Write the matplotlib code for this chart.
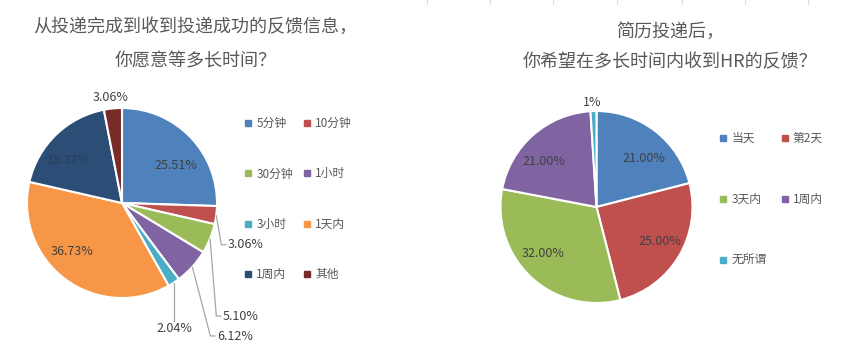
import matplotlib
matplotlib.use("Agg")
import numpy as np
import matplotlib.pyplot as plt
from matplotlib.lines import Line2D

plt.rcParams['font.family'] = ['Noto Sans CJK SC', 'DejaVu Sans']

W, H = 842, 361

# ---- data ----
left_title = ["从投递完成到收到投递成功的反馈信息，", "你愿意等多长时间？"]
left_labels = ["5分钟", "10分钟", "30分钟", "1小时", "3小时", "1天内", "1周内", "其他"]
left_values = [25.51, 3.06, 5.10, 6.12, 2.04, 36.73, 18.37, 3.06]
left_pct = ["25.51%", "3.06%", "5.10%", "6.12%", "2.04%", "36.73%", "18.37%", "3.06%"]

right_title = ["简历投递后，", "你希望在多长时间内收到HR的反馈？"]
right_labels = ["当天", "第2天", "3天内", "1周内", "无所谓"]
right_values = [21.00, 25.00, 32.00, 21.00, 1.00]
right_pct = ["21.00%", "25.00%", "32.00%", "21.00%", "1%"]

left_colors = ["#4F81BD", "#C0504D", "#9BBB59", "#8064A2", "#4BACC6", "#F79646", "#2C4D75", "#772C2A"]
right_colors = ["#4F81BD", "#C0504D", "#9BBB59", "#8064A2", "#4BACC6"]

TXT = "#404040"
GRAY = "#595959"
LEAD = "#A6A6A6"

fig = plt.figure(figsize=(W / 100, H / 100), dpi=100)
fig.patch.set_facecolor("white")


def pie_axes(cx, cy, r, half=150):
    ax = fig.add_axes([(cx - half) / W, 1 - (cy + half) / H, 2 * half / W, 2 * half / H])
    ax.axis("off")
    return ax


def draw_pie(ax, values, colors, r, half=150):
    wedges, _ = ax.pie(values, colors=colors, startangle=90, counterclock=False,
                       radius=1, wedgeprops=dict(edgecolor="white", linewidth=1.5))
    ax.set_xlim(-half / r, half / r)
    ax.set_ylim(-half / r, half / r)
    return wedges


def edge_point(w):
    a = np.deg2rad((w.theta1 + w.theta2) / 2)
    return np.cos(a), np.sin(a)


# ---- left pie ----
axL = pie_axes(122, 203, 95)
wl = draw_pie(axL, left_values, left_colors, 95)

# labels placed inside / above the pie
inner_left = {0: (0.57, 0.39), 5: (-0.53, -0.51), 6: (-0.57, 0.45), 7: (-0.12, 1.11)}
for i, (x, y) in inner_left.items():
    c = "#2A3F5C" if i == 6 else TXT
    axL.text(x, y, left_pct[i], ha="center", va="center", fontsize=9, color=c)

# labels with leader lines (x, y of text, ha)
outer_left = {1: (1.116, -0.44, "left"), 2: (1.063, -1.19, "left"), 3: (1.0, -1.40, "left")}
for i, (x, y, ha) in outer_left.items():
    ex, ey = edge_point(wl[i])
    axL.plot([ex, x - 0.07, x - 0.015], [ey, y, y], color=LEAD, lw=0.9, solid_capstyle="butt")
    axL.text(x, y, left_pct[i], ha=ha, va="center", fontsize=9, color=TXT)
ex, ey = edge_point(wl[4])
axL.plot([ex, ex], [ey, -1.24], color=LEAD, lw=0.9)
axL.text(ex + 0.01, -1.32, left_pct[4], ha="center", va="center", fontsize=9, color=TXT)

# ---- right pie ----
axR = pie_axes(596.5, 207, 96)
wr = draw_pie(axR, right_values, right_colors, 96)
inner_right = [(0.49, 0.51), (0.66, -0.36), (-0.56, -0.48), (-0.55, 0.47), (-0.04, 1.09)]
for (x, y), t in zip(inner_right, right_pct):
    axR.text(x, y, t, ha="center", va="center", fontsize=9, color=TXT)

# ---- titles ----
fig.text(195 / W, 1 - 27 / H, left_title[0], ha="center", va="center", fontsize=13, color=GRAY)
fig.text(196 / W, 1 - 62 / H, left_title[1], ha="center", va="center", fontsize=13, color=GRAY)
fig.text(670 / W, 1 - 32 / H, right_title[0], ha="center", va="center", fontsize=13, color=GRAY)
fig.text(670 / W, 1 - 62 / H, right_title[1], ha="center", va="center", fontsize=13, color=GRAY)


# ---- legends (row-major order like the original) ----
def make_legend(labels, colors, order, anchor, lspace, cspace):
    handles = [Line2D([0], [0], marker="s", linestyle="none", markersize=4,
                      markerfacecolor=colors[i], markeredgecolor=colors[i]) for i in order]
    leg = fig.legend(handles, [labels[i] for i in order], ncol=2, frameon=False,
                     loc="upper left", bbox_to_anchor=(anchor[0] / W, 1 - anchor[1] / H),
                     fontsize=8.5, handlelength=0.6, handletextpad=0.4, borderpad=0,
                     borderaxespad=0, labelspacing=lspace, columnspacing=cspace,
                     labelcolor=GRAY)
    return leg


make_legend(left_labels, left_colors, [0, 2, 4, 6, 1, 3, 5, 7], (244.5, 117), 3.17, 0.9)
make_legend(right_labels, right_colors, [0, 2, 4, 1, 3], (719.5, 132), 4.07, 1.22)

# faint table ticks at the top edge
for x in [427, 490, 553, 617, 682, 745, 808]:
    fig.add_artist(Line2D([x / W, x / W], [1, 1 - 4 / H], color="#DDDDDD", lw=0.8))

fig.savefig("out.png", dpi=100, facecolor="white")
